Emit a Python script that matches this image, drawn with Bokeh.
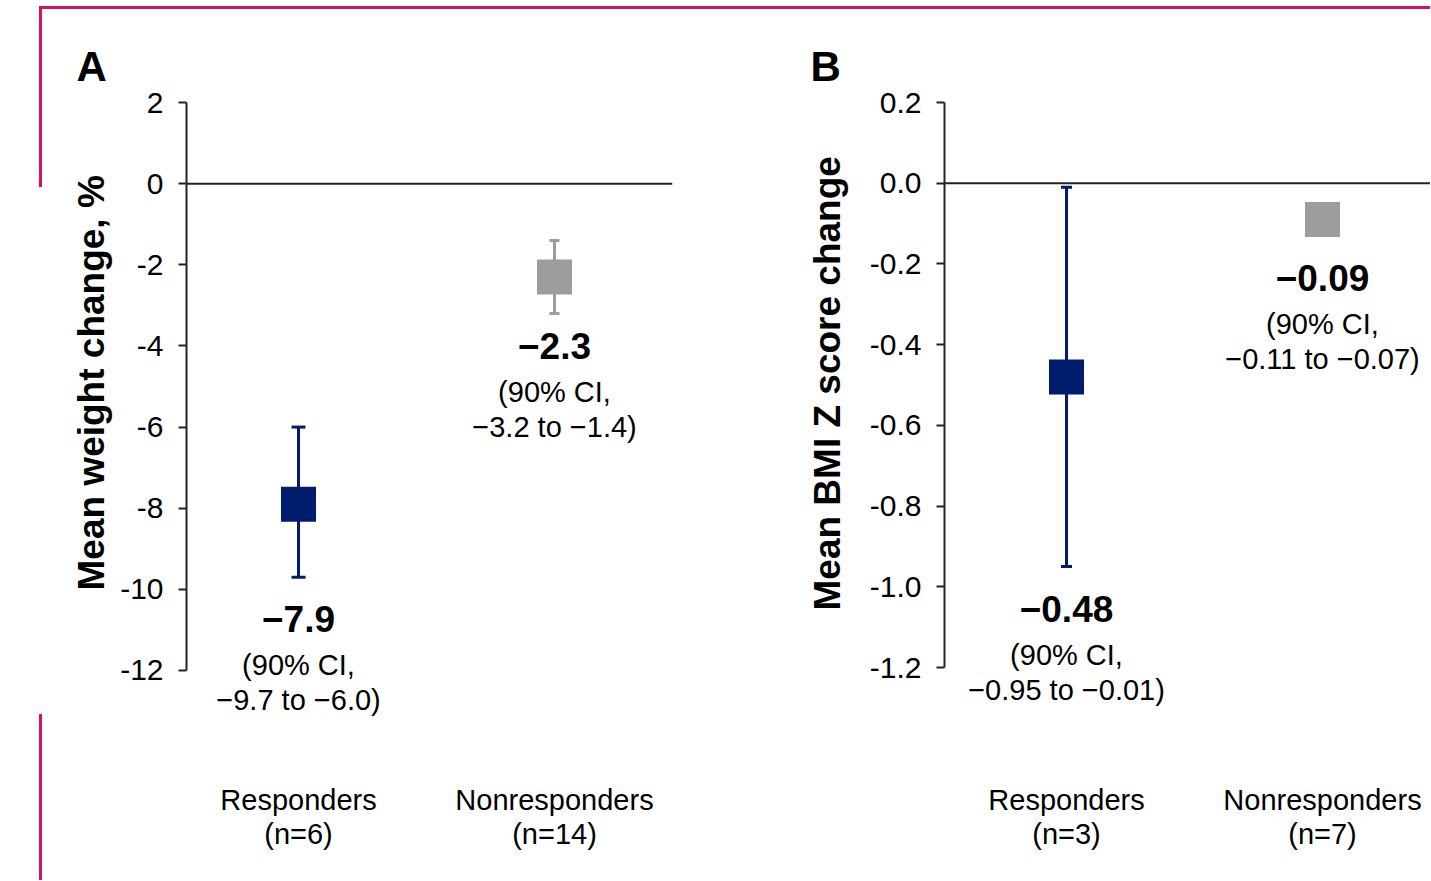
from bokeh.plotting import figure
from bokeh.models import (Range1d, FixedTicker, Whisker, TeeHead, ColumnDataSource,
                          LabelSet, Span, Title)
from bokeh.layouts import row
from bokeh.core.properties import value
from bokeh.embed import file_html
from bokeh.resources import INLINE

# ---------------- data ----------------
groups_a = ["Responders\n(n=6)", "Nonresponders\n(n=14)"]
mean_a = [-7.9, -2.3]
lo_a = [-9.7, -3.2]
hi_a = [-6.0, -1.4]
val_text_a = ["\u22127.9", "\u22122.3"]
ci_text_a = ["\u22129.7 to \u22126.0)", "\u22123.2 to \u22121.4)"]
yticks_a = [2, 0, -2, -4, -6, -8, -10, -12]
ylabels_a = ["2", "0", "-2", "-4", "-6", "-8", "-10", "-12"]

groups_b = ["Responders\n(n=3)", "Nonresponders\n(n=7)"]
mean_b = [-0.48, -0.09]
lo_b = [-0.95, -0.11]
hi_b = [-0.01, -0.07]
val_text_b = ["\u22120.48", "\u22120.09"]
ci_text_b = ["\u22120.95 to \u22120.01)", "\u22120.11 to \u22120.07)"]
yticks_b = [0.2, 0.0, -0.2, -0.4, -0.6, -0.8, -1.0, -1.2]
ylabels_b = ["0.2", "0.0", "-0.2", "-0.4", "-0.6", "-0.8", "-1.0", "-1.2"]

xpos = [1, 2]

# ---------------- styles / layout ----------------
NAVY = "#001c6c"
GREY = "#9d9d9d"
PINK = "#d6105a"
FONT = "Liberation Sans"
colors = [NAVY, GREY]
label_gap_a = [42, 33]
label_gap_b = [42, 50]
FIG_H = 880


def make_panel(letter, letter_offset, groups, mean, lo, hi, val_text, ci_text, yticks, ylabels,
               yrange, ybounds, xrange, width, mb_left, mb_right, ylab, ylab_standoff, ylab_offset,
               gaps, cap_sizes):
    p = figure(width=width, height=FIG_H, output_backend="svg", toolbar_location=None,
               x_range=Range1d(*xrange), y_range=Range1d(*yrange),
               min_border_left=mb_left, min_border_right=mb_right,
               min_border_top=102, min_border_bottom=FIG_H - 730)
    p.grid.visible = False
    p.outline_line_color = None
    p.background_fill_color = "white"
    p.border_fill_color = None

    # panel letter
    p.title.text = letter
    p.title.align = "left"
    p.title.offset = letter_offset
    p.title.standoff = 25
    p.title.text_font = FONT
    p.title.text_font_size = "42px"
    p.title.text_font_style = "bold"
    p.title.text_color = "black"

    # y axis
    ya = p.yaxis[0]
    ya.ticker = FixedTicker(ticks=yticks)
    ya.major_label_overrides = {t: l for t, l in zip(yticks, ylabels)}
    ya.bounds = ybounds
    ya.axis_line_width = 2
    ya.axis_line_color = "#222222"
    ya.major_tick_line_width = 2
    ya.major_tick_line_color = "#222222"
    ya.major_tick_out = 8
    ya.major_tick_in = 0
    ya.minor_tick_line_color = None
    ya.major_label_standoff = 15
    ya.major_label_text_font = FONT
    ya.major_label_text_font_size = "30px"
    ya.major_label_text_color = "black"

    # y axis title
    p.add_layout(Title(text=ylab, align="left", offset=ylab_offset, standoff=ylab_standoff,
                       text_font=FONT, text_font_size="37px", text_font_style="bold",
                       text_color="black"), "left")

    # x axis (category labels only)
    xa = p.xaxis[0]
    xa.ticker = FixedTicker(ticks=xpos)
    xa.major_label_overrides = {x: g for x, g in zip(xpos, groups)}
    xa.axis_line_color = None
    xa.major_tick_line_color = None
    xa.minor_tick_line_color = None
    xa.major_label_standoff = 47
    xa.major_label_text_font = FONT
    xa.major_label_text_font_size = "29px"
    xa.major_label_text_line_height = 1.07
    xa.major_label_text_color = "black"

    # zero line
    p.add_layout(Span(location=0, dimension="width", line_color="#222222", line_width=2))

    # error bars
    for i in range(2):
        src = ColumnDataSource(dict(x=[xpos[i]], lo=[lo[i]], hi=[hi[i]]))
        w = Whisker(source=src, base="x", lower="lo", upper="hi", dimension="height",
                    line_color=colors[i], line_width=3,
                    lower_head=TeeHead(size=cap_sizes[i], line_color=colors[i], line_width=3),
                    upper_head=TeeHead(size=cap_sizes[i], line_color=colors[i], line_width=3))
        p.add_layout(w)

    # markers
    p.scatter(x=xpos, y=mean, marker="square", size=35, color=colors, line_color=None)

    # value labels
    src = ColumnDataSource(dict(x=xpos, y=lo, v=val_text, c1=["(90% CI,"] * 2, c2=ci_text,
                                o1=[-g for g in gaps], o2=[-g - 46 for g in gaps],
                                o3=[-g - 81 for g in gaps]))
    common = dict(source=src, x="x", y="y", text_align="center", text_baseline="middle",
                  text_font=value(FONT), text_color="black")
    p.add_layout(LabelSet(text="v", y_offset="o1", text_font_size="37px",
                          text_font_style="bold", **common))
    p.add_layout(LabelSet(text="c1", y_offset="o2", text_font_size="29px", **common))
    p.add_layout(LabelSet(text="c2", y_offset="o3", text_font_size="29px", **common))
    return p


pA = make_panel("A", -110, groups_a, mean_a, lo_a, hi_a, val_text_a, ci_text_a,
                yticks_a, ylabels_a, (-13.479, 2), (-12, 2), (0.5625, 2.4609), 740, 186, 68,
                "Mean weight change, %", 11, 140, label_gap_a, [14, 10])
pB = make_panel("B", -134, groups_b, mean_b, lo_b, hi_b, val_text_b, ci_text_b,
                yticks_b, ylabels_b, (-1.3561, 0.2), (-1.2, 0.2), (0.5234, 2.4219), 690, 204, 0,
                "Mean BMI Z score change", 38, 120, label_gap_b, [11, 11])

grad = "linear-gradient(%s, %s)" % (PINK, PINK)
layout = row(pA, pB, styles={
    "background-image": ", ".join([grad] * 3),
    "background-size": "1392px 3px, 3px 181px, 3px 170px",
    "background-position": "39px 6px, 39px 6px, 39px 714px",
    "background-repeat": "no-repeat",
})
open("out.html", "w").write(file_html(layout, INLINE))
